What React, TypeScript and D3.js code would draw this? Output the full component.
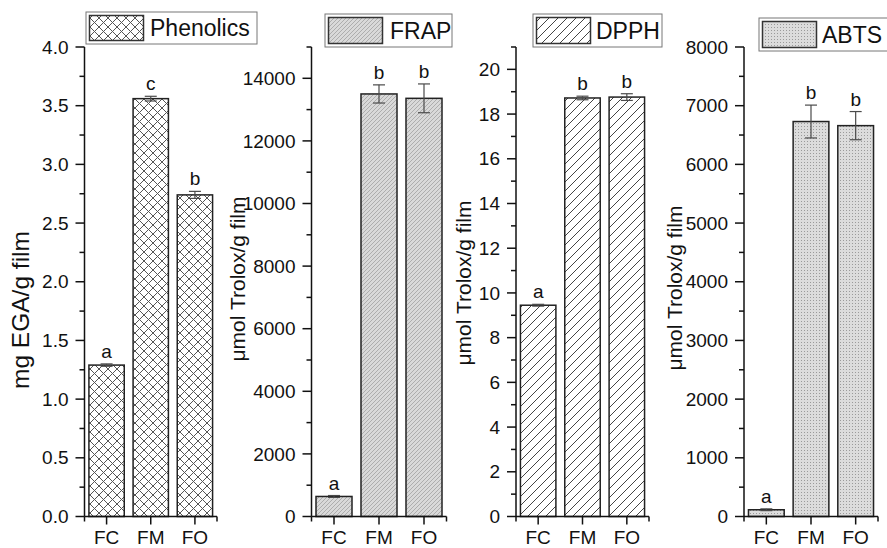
import React from 'react';
import * as d3 from 'd3';

const CATEGORIES = ['FC', 'FM', 'FO'];

const PHENOLICS = [1.29, 3.56, 2.74];
const PHENOLICS_ERR = [0.01, 0.02, 0.03];
const PHENOLICS_LETTERS = ['a', 'c', 'b'];

const FRAP = [640, 13500, 13360];
const FRAP_ERR = [30, 290, 460];
const FRAP_LETTERS = ['a', 'b', 'b'];

const DPPH = [9.45, 18.72, 18.76];
const DPPH_ERR = [0.04, 0.08, 0.15];
const DPPH_LETTERS = ['a', 'b', 'b'];

const ABTS = [115, 6730, 6660];
const ABTS_ERR = [15, 280, 240];
const ABTS_LETTERS = ['a', 'b', 'b'];

const FONT = 'Liberation Sans, Arial, sans-serif';
const TOP = 47;
const BOTTOM = 516.5;

const PANELS = [
  {
    name: 'Phenolics', values: PHENOLICS, errs: PHENOLICS_ERR, letters: PHENOLICS_LETTERS,
    max: 4, step: 0.5, fmt: '.1f', label: 'mg EGA/g film', fill: 'url(#pCross)',
    x0: 84.5, x1: 217, labelX: 29, labelY: 310, labelSize: 24.5,
    legend: { x: 86, y: 12, w: 171, h: 32, textX: 150 },
  },
  {
    name: 'FRAP', values: FRAP, errs: FRAP_ERR, letters: FRAP_LETTERS,
    max: 15000, step: 2000, fmt: 'd', label: 'μmol Trolox/g film', fill: 'url(#pFrap)',
    x0: 311.5, x1: 446.5, labelX: 245, labelY: 279, labelSize: 21,
    legend: { x: 325, y: 14, w: 127, h: 33, textX: 390 },
  },
  {
    name: 'DPPH', values: DPPH, errs: DPPH_ERR, letters: DPPH_LETTERS,
    max: 21, step: 2, fmt: 'd', label: 'μmol Trolox/g film', fill: 'url(#pDiag)',
    x0: 516, x1: 649, labelX: 471, labelY: 283, labelSize: 21,
    legend: { x: 533, y: 14, w: 129, h: 33, textX: 596 },
  },
  {
    name: 'ABTS', values: ABTS, errs: ABTS_ERR, letters: ABTS_LETTERS,
    max: 8000, step: 1000, fmt: 'd', label: 'μmol Trolox/g film', fill: 'url(#pDots)',
    x0: 744, x1: 878, labelX: 682, labelY: 288, labelSize: 21,
    legend: { x: 759, y: 18, w: 130, h: 33, textX: 822 },
  },
];

function Panel({ p }) {
  const y = d3.scaleLinear().domain([0, p.max]).range([BOTTOM, TOP]);
  const x = d3.scaleBand().domain(CATEGORIES).range([p.x0, p.x1]).paddingInner(0.2).paddingOuter(0.1);
  const major = d3.range(0, p.max + 1e-9, p.step);
  const minor = d3.range(p.step / 2, p.max + 1e-9, p.step);
  const fmt = d3.format(p.fmt);
  const lg = p.legend;
  return (
    <g>
      {/* legend */}
      <rect x={lg.x} y={lg.y} width={lg.w} height={lg.h} fill="#fff" stroke="#777" strokeWidth={1} />
      <rect x={lg.x + 3.5} y={lg.y + 3.5} width={54} height={lg.h - 7} fill={p.fill} stroke="#333" strokeWidth={1.5} />
      <text x={lg.textX} y={lg.y + lg.h - 8} fontSize={23} fontFamily={FONT} fill="#111">{p.name}</text>

      {/* bars */}
      {CATEGORIES.map((c, i) => (
        <rect key={c} x={x(c)} y={y(p.values[i])} width={x.bandwidth()} height={y(0) - y(p.values[i])}
          fill={p.fill} stroke="#222" strokeWidth={1.5} />
      ))}
      {/* error bars */}
      {CATEGORIES.map((c, i) => {
        const cx = x(c) + x.bandwidth() / 2;
        const hi = y(p.values[i] + p.errs[i]);
        const lo = y(p.values[i] - p.errs[i]);
        return (
          <g key={c} stroke="#4a4a4a" strokeWidth={1.2}>
            <line x1={cx} x2={cx} y1={hi} y2={lo} />
            <line x1={cx - 6} x2={cx + 6} y1={hi} y2={hi} />
            <line x1={cx - 6} x2={cx + 6} y1={lo} y2={lo} />
          </g>
        );
      })}
      {CATEGORIES.map((c, i) => (
        <text key={c} x={x(c) + x.bandwidth() / 2} y={y(p.values[i] + p.errs[i]) - 6}
          textAnchor="middle" fontSize={19} fontFamily={FONT} fill="#111">{p.letters[i]}</text>
      ))}

      {/* y axis */}
      <line x1={p.x0} x2={p.x0} y1={TOP} y2={BOTTOM} stroke="#111" strokeWidth={1.5} />
      {major.map((v) => (
        <g key={'M' + v}>
          <line x1={p.x0 - 9} x2={p.x0} y1={y(v)} y2={y(v)} stroke="#111" strokeWidth={1.5} />
          <text x={p.x0 - 16} y={y(v)} dy="0.35em" textAnchor="end" fontSize={19} fontFamily={FONT} fill="#111">{fmt(v)}</text>
        </g>
      ))}
      {minor.map((v) => (
        <line key={'m' + v} x1={p.x0 - 5} x2={p.x0} y1={y(v)} y2={y(v)} stroke="#111" strokeWidth={1.5} />
      ))}
      <text transform={`translate(${p.labelX},${p.labelY}) rotate(-90)`} textAnchor="middle"
        fontSize={p.labelSize} fontFamily={FONT} fill="#111">{p.label}</text>

      {/* x axis */}
      <line x1={p.x0} x2={p.x1} y1={BOTTOM} y2={BOTTOM} stroke="#111" strokeWidth={1.5} />
      {[p.x0, p.x1].map((v) => (
        <line key={v} x1={v} x2={v} y1={BOTTOM} y2={BOTTOM + 5} stroke="#111" strokeWidth={1.5} />
      ))}
      {CATEGORIES.map((c) => {
        const cx = x(c) + x.bandwidth() / 2;
        return (
          <g key={c}>
            <line x1={cx} x2={cx} y1={BOTTOM} y2={BOTTOM + 8} stroke="#111" strokeWidth={1.5} />
            <text x={cx} y={BOTTOM + 27.5} textAnchor="middle" fontSize={19} fontFamily={FONT} fill="#111">{c}</text>
          </g>
        );
      })}
    </g>
  );
}

export default function App() {
  return (
    <svg width={887} height={548} style={{ position: 'absolute', left: 0, top: 0, background: '#fff' }}>
      <defs>
        <pattern id="pCross" patternUnits="userSpaceOnUse" width={9} height={9}>
          <rect width={9} height={9} fill="#fff" />
          <path d="M0,0 L9,9 M9,0 L0,9" stroke="#555" strokeWidth={1} />
        </pattern>
        <pattern id="pDiag" patternUnits="userSpaceOnUse" width={9} height={9}>
          <rect width={9} height={9} fill="#fff" />
          <path d="M0,9 L9,0 M-2,2 L2,-2 M7,11 L11,7" stroke="#444" strokeWidth={1} />
        </pattern>
        <pattern id="pFrap" patternUnits="userSpaceOnUse" width={4} height={4}>
          <rect width={4} height={4} fill="#d9d9d9" />
          <path d="M0,4 L4,0 M-1,1 L1,-1 M3,5 L5,3" stroke="#999" strokeWidth={0.7} />
        </pattern>
        <pattern id="pDots" patternUnits="userSpaceOnUse" width={3} height={3}>
          <rect width={3} height={3} fill="#dcdcdc" />
          <rect width={1} height={1} fill="#9a9a9a" />
        </pattern>
      </defs>
      {PANELS.map((p) => (
        <Panel key={p.name} p={p} />
      ))}
    </svg>
  );
}
